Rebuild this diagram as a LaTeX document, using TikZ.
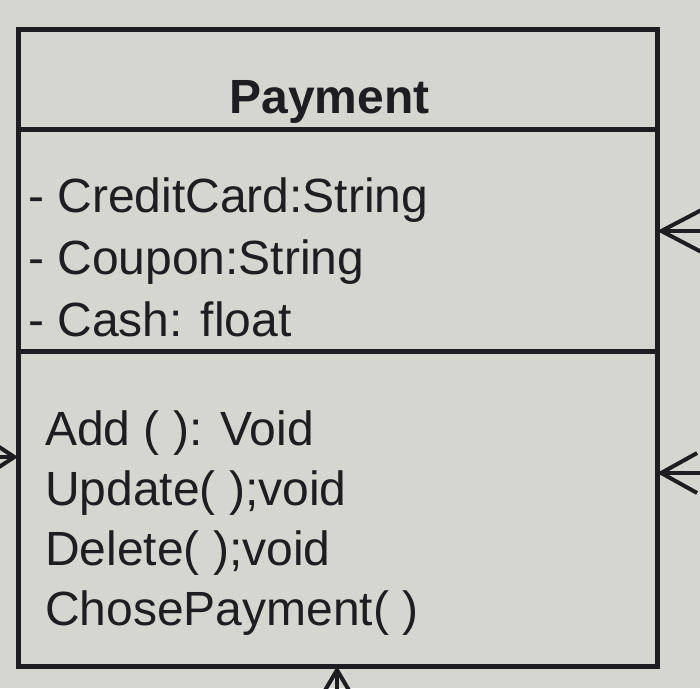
\documentclass[tikz,border=0pt]{standalone}
\usepackage{fontspec}
\setmainfont{Liberation Sans}
\usepackage{tikz}
\usetikzlibrary{arrows.meta, positioning}

\definecolor{photobg}{RGB}{214,214,208}
\definecolor{ink}{RGB}{30,30,34}

\begin{document}
\begin{tikzpicture}[x=1pt, y=1pt,
        compartment/.style = {
            rectangle,
            draw=ink,
            line width=5pt,
            minimum width=639pt,
            inner sep=0pt,
            outer sep=0pt
        },
        classname/.style = {
            font = \fontsize{48}{60}\selectfont\bfseries,
            text = ink,
            inner sep=0pt
        },
        members/.style = {
            font = \fontsize{48}{#1}\selectfont,
            text = ink,
            align = left,
            anchor = north west,
            inner sep=0pt
        },
        assoc/.style 2 args = {
            draw=ink,
            line width=4pt,
            -{Straight Barb[length=#1pt, width=#2pt, line width=4pt]}
        }
    ]
    \fill[photobg] (0,0) rectangle (700,688);
    \useasboundingbox (0,0) rectangle (700,688);
    \clip (0,0) rectangle (700,688);

    \node (head) [compartment, minimum height=100pt, anchor=north west] at (18,658) {};
    \node (attrs) [compartment, minimum height=222pt, below=0pt of head] {};
    \node (ops) [compartment, minimum height=314pt, below=0pt of attrs] {};

    \node (name) [classname] at ([yshift=-22pt, xshift=-8pt]head.center) {Payment};
    \node (fields) [members=62] at ([xshift=10pt, yshift=-48pt]attrs.north west)
        {- CreditCard:String\\- Coupon:String\\- Cash: float};
    \node (methods) [members=60] at ([xshift=27pt, yshift=-59pt]ops.north west)
        {Add ( ): Void\\Update( );void\\Delete( );void\\ChosePayment( )};

    \coordinate (rin) at (704,457);
    \coordinate (rout) at (704,215);
    \coordinate (lin) at (-6,231);
    \coordinate (bin) at (337,-16);

    \draw[assoc={44}{46}] (rin) -- (rin -| attrs.east);
    \draw[assoc={36}{40}] (rout) -- (rout -| ops.east);
    \draw[assoc={32}{42}] (lin) -- (lin -| ops.west);
    \draw[assoc={34}{40}] (bin) -- (bin |- ops.south);
\end{tikzpicture}
\end{document}
